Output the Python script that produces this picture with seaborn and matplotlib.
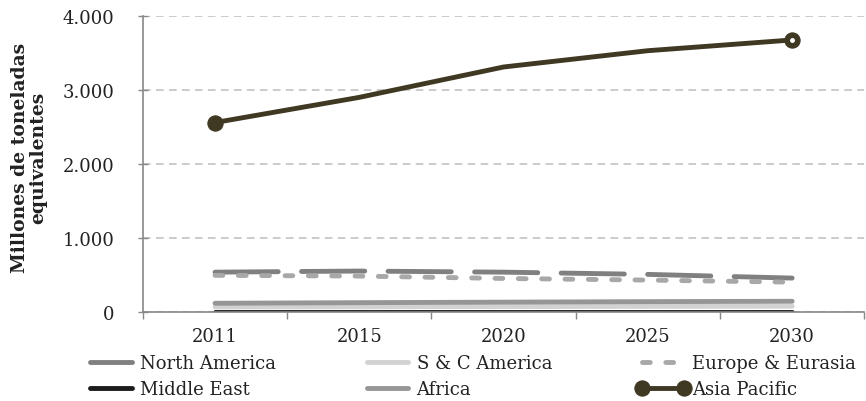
import seaborn as sns
import matplotlib.pyplot as plt
import pandas as pd
from matplotlib.ticker import FuncFormatter, FixedLocator

sns.set_style("white")
plt.rcParams['font.family'] = ['DejaVu Serif']

# Data (millones de toneladas equivalentes)
years = ['2011', '2015', '2020', '2025', '2030']
north_america = [540, 555, 540, 510, 460]
sc_america = [70, 72, 75, 78, 80]
europe_eurasia = [497, 487, 455, 433, 405]
middle_east = [5, 5, 5, 5, 5]
africa = [120, 128, 135, 142, 147]
asia_pacific = [2560, 2900, 3310, 3530, 3675]

df = pd.DataFrame({
    'Year': years,
    'North America': north_america,
    'S & C America': sc_america,
    'Europe & Eurasia': europe_eurasia,
    'Middle East': middle_east,
    'Africa': africa,
    'Asia Pacific': asia_pacific,
})

fig, ax = plt.subplots(figsize=(8.66, 4.02), dpi=100)
fig.subplots_adjust(left=0.165, right=0.998, top=0.958, bottom=0.221)

lw = 3.5
txt = '#222222'
# North America - long dashes
sns.lineplot(data=df, x='Year', y='North America', ax=ax, color='#808080', lw=lw,
             label='North America')
ax.lines[-1].set_dashes((13, 4.8))
ax.lines[-1].set_dash_capstyle('round')
# S & C America
sns.lineplot(data=df, x='Year', y='S & C America', ax=ax, color='#d2d2d2', lw=lw,
             label='S & C America', solid_capstyle='round')
# Europe & Eurasia - round dots
sns.lineplot(data=df, x='Year', y='Europe & Eurasia', ax=ax, color='#a8a8a8', lw=lw,
             label='Europe & Eurasia')
ax.lines[-1].set_dashes((1.6, 3.2))
ax.lines[-1].set_dash_capstyle('round')
# Middle East
sns.lineplot(data=df, x='Year', y='Middle East', ax=ax, color='#1c1c1c', lw=lw,
             label='Middle East', solid_capstyle='round')
# Africa
sns.lineplot(data=df, x='Year', y='Africa', ax=ax, color='#969696', lw=lw,
             label='Africa', solid_capstyle='round')
# Asia Pacific
sns.lineplot(data=df, x='Year', y='Asia Pacific', ax=ax, color='#3f3822', lw=lw,
             label='Asia Pacific', marker='o', markersize=11, markevery=[0, 4],
             markeredgecolor='#3f3822', solid_capstyle='round')
ax.plot([4], [asia_pacific[-1]], marker='o', ms=2.5, color='white', ls='none')

ax.set_xlim(-0.5, 4.5)
ax.set_ylim(0, 4000)
ax.set_yticks([0, 1000, 2000, 3000, 4000])
ax.yaxis.set_major_formatter(FuncFormatter(lambda v, p: f'{int(v):,}'.replace(',', '.')))
ax.yaxis.grid(True, color='#bdbdbd', ls=(0, (5, 3.5)), lw=1.1)
ax.set_axisbelow(True)

ax.xaxis.set_minor_locator(FixedLocator([-0.5, 0.5, 1.5, 2.5, 3.5, 4.5]))
ax.tick_params(axis='x', which='major', length=0, pad=11, labelsize=13, colors=txt)
ax.tick_params(axis='x', which='minor', length=5, width=1, color='#888888', bottom=True)
ax.tick_params(axis='y', which='major', length=7, width=1, direction='inout',
               color='#888888', pad=17, labelsize=13, labelcolor=txt, left=True)

for s in ['top', 'right']:
    ax.spines[s].set_visible(False)
for s in ['left', 'bottom']:
    ax.spines[s].set_color('#888888')
    ax.spines[s].set_linewidth(1.2)

ax.set_xlabel('')
ax.set_ylabel('Millones de toneladas\nequivalentes', fontsize=13.5, fontweight='bold',
              color=txt, linespacing=1.0)
ax.yaxis.set_label_coords(-0.133, 0.525)

handles, labels = ax.get_legend_handles_labels()
order = ['North America', 'Middle East', 'S & C America', 'Africa',
         'Europe & Eurasia', 'Asia Pacific']
hmap = dict(zip(labels, handles))
ax.legend_.remove()
fig.legend([hmap[k] for k in order], order, loc='upper left', bbox_to_anchor=(0.098, 0.117),
           ncol=3, frameon=False, fontsize=13, handlelength=2.9, handletextpad=0.17,
           columnspacing=4.7, labelspacing=0.46, borderaxespad=0, borderpad=0,
           labelcolor=txt, numpoints=2)

plt.savefig('out.png', dpi=100)
